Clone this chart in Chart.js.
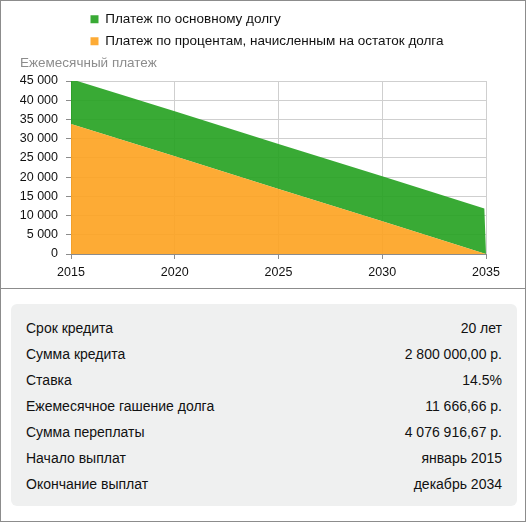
<!DOCTYPE html>
<html lang="ru">
<head>
    <meta charset="UTF-8">
    <title>Ежемесячный платеж</title>
    <script src="https://cdn.jsdelivr.net/npm/chart.js"></script>
    <style>
        body { margin: 0; font-family: "Liberation Sans", Arial, sans-serif; background: #fff; }
        #wrap { position: absolute; left: 0; top: 0; width: 526px; height: 522px; box-sizing: border-box; border: 1px solid #8c8c8c; }
        #chartBox { position: relative; height: 287px; border-bottom: 1px solid #8c8c8c; }
        .info { margin: 15px 8px 0 10px; background: #eff0f0; border-radius: 6px; padding: 11px 15px 9px 15px; }
        .info table { width: 100%; border-collapse: collapse; font-size: 14px; color: #111; }
        .info td { height: 26px; padding: 0; }
        .info td.v { text-align: right; }
    </style>
</head>
<body>
<div id="wrap">
    <div id="chartBox"><canvas id="loanChart"></canvas></div>
    <div class="info">
        <table>
            <tr><td>Срок кредита</td><td class="v">20 лет</td></tr>
            <tr><td>Сумма кредита</td><td class="v">2 800 000,00 р.</td></tr>
            <tr><td>Ставка</td><td class="v">14.5%</td></tr>
            <tr><td>Ежемесячное гашение долга</td><td class="v">11 666,66 р.</td></tr>
            <tr><td>Сумма переплаты</td><td class="v">4 076 916,67 р.</td></tr>
            <tr><td>Начало выплат</td><td class="v">январь 2015</td></tr>
            <tr><td>Окончание выплат</td><td class="v">декабрь 2034</td></tr>
        </table>
    </div>
</div>

<script>
    // values
    const years = [2015, 2020, 2025, 2030, 2034.92, 2035];
    const interestPay = [33800, 25400, 16900, 8500, 150, 0];
    const principalPay = [11700, 11700, 11700, 11700, 11700, 0];
    const xTicks = [2015, 2020, 2025, 2030, 2035];

    const seriesNames = ['Платеж по процентам, начисленным на остаток долга', 'Платеж по основному долгу'];
    const axisTitle = 'Ежемесячный платеж';

    Chart.defaults.font.family = '"Liberation Sans", Arial, sans-serif';
    Chart.defaults.font.size = 12.5;
    Chart.defaults.color = '#111';

    const toPoints = vals => years.map((y, i) => ({ x: y, y: vals[i] }));
    const spaced = v => String(v).replace(/\B(?=(\d{3})+(?!\d))/g, ' ');

    // legend rows start further right than chart.js puts them
    const legendShift = {
        id: 'legendShift',
        beforeDraw(chart) { chart.legend.left = 81; }
    };

    new Chart(document.getElementById('loanChart'), {
        type: 'line',
        data: {
            datasets: [{
                label: seriesNames[0],
                data: toPoints(interestPay),
                backgroundColor: 'rgba(253,162,31,0.9)',
                borderWidth: 0,
                pointRadius: 0,
                fill: 'origin'
            }, {
                label: seriesNames[1],
                data: toPoints(principalPay),
                backgroundColor: 'rgba(36,161,31,0.9)',
                borderWidth: 0,
                pointRadius: 0,
                fill: '-1'
            }]
        },
        options: {
            responsive: true,
            maintainAspectRatio: false,
            animation: false,
            layout: { padding: { left: 19, right: 39, top: 3, bottom: 2 } },
            plugins: {
                tooltip: { enabled: false },
                legend: {
                    position: 'top',
                    align: 'start',
                    reverse: true,
                    labels: { boxWidth: 8, boxHeight: 8, padding: 8.5, color: '#111', font: { size: 13.5 } }
                },
                title: {
                    display: true,
                    text: axisTitle,
                    align: 'start',
                    position: 'top',
                    weight: 500,
                    color: '#8c8c8c',
                    font: { size: 13.5, weight: 'normal', lineHeight: '10px' },
                    padding: { top: 0, bottom: 13 }
                }
            },
            scales: {
                x: {
                    type: 'linear',
                    min: xTicks[0],
                    max: xTicks[xTicks.length - 1],
                    afterBuildTicks: axis => { axis.ticks = xTicks.map(v => ({ value: v })); },
                    ticks: { padding: 6, callback: v => String(v), maxRotation: 0 },
                    grid: { color: '#cfcfcf', tickColor: '#8c8c8c', tickLength: 5 },
                    border: { color: '#8c8c8c' }
                },
                y: {
                    stacked: true,
                    min: 0,
                    max: 45000,
                    afterFit: axis => { axis.width = 51; },
                    ticks: { stepSize: 5000, padding: 8, callback: v => spaced(v) },
                    grid: { color: '#cfcfcf', tickColor: '#8c8c8c', tickLength: 5 },
                    border: { color: '#8c8c8c' }
                }
            }
        },
        plugins: [legendShift]
    });
</script>
</body>
</html>
